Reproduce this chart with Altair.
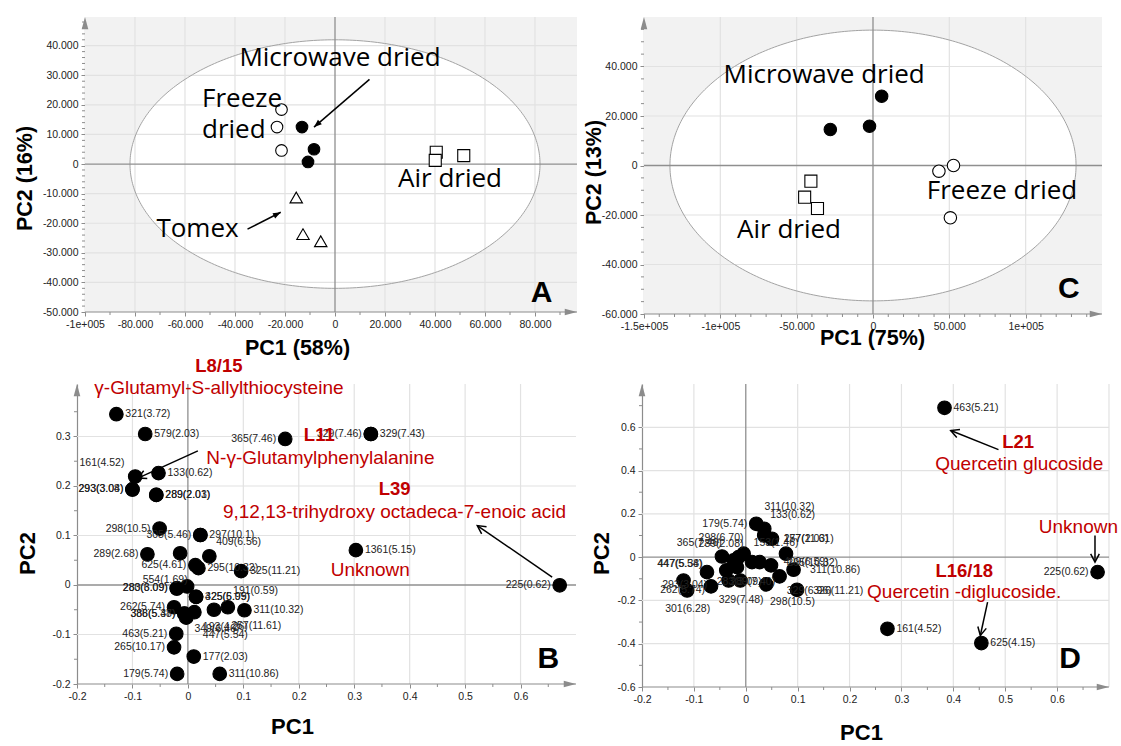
import altair as alt
import numpy as np
import pandas as pd

# ====================== DATA ======================
# ---- Panel A (scores) ----
A_freeze_x = [-21400, -23200, -21400]
A_freeze_y = [18400, 12500, 4600]
A_micro_x = [-13200, -8400, -10800]
A_micro_y = [12500, 5000, 700]
A_air_x = [40500, 40100, 51500]
A_air_y = [4000, 1250, 2850]
A_tomex_x = [-15500, -12800, -5700]
A_tomex_y = [-11300, -23700, -26100]
A_ell = [82000, 42000]
A_lbl = ["Microwave dried", "Freeze", "dried", "Air dried", "Tomex"]
A_lbl_x = [2000, -53200, -53200, 46000, -55000]
A_lbl_y = [35700, 22000, 11400, -4900, -22100]
A_lbl_align = ["center", "left", "left", "center", "center"]
A_arr_x1 = [13800, -35000]
A_arr_y1 = [28600, -22000]
A_arr_x2 = [-8400, -21700]
A_arr_y2 = [12500, -16300]
A_xticks = [-100000, -80000, -60000, -40000, -20000, 0, 20000, 40000, 60000, 80000]
A_yticks = [-50000, -40000, -30000, -20000, -10000, 0, 10000, 20000, 30000, 40000]

# ---- Panel C (scores) ----
C_micro_x = [-27950, -2270, 5680]
C_micro_y = [14545, 15890, 28010]
C_freeze_x = [43180, 52730, 50680]
C_freeze_y = [-2290, 0, -21140]
C_air_x = [-40680, -44770, -36360]
C_air_y = [-6330, -12790, -17370]
C_ell = [133000, 54700]
C_lbl = ["Microwave dried", "Freeze dried", "Air dried"]
C_lbl_x = [-32000, 84500, -55000]
C_lbl_y = [36500, -10200, -25900]
C_xticks = [-150000, -100000, -50000, 0, 50000, 100000]
C_yticks = [-60000, -40000, -20000, 0, 20000, 40000]

# ---- Panel B (loadings) ----
B_x = [-0.129, -0.077, 0.1755, 0.330, 0.330, -0.095, -0.053, -0.100, -0.100, -0.057,
       -0.057, -0.051, 0.0225, 0.0225, 0.0387, -0.073, -0.014, 0.0135, 0.019, 0.096,
       -0.020, -0.020, -0.0014, 0.0148, 0.0148, 0.072, 0.102, 0.047, 0.0117, -0.0063,
       -0.0063, -0.003, -0.025, -0.021, -0.025, 0.0106, -0.0194, 0.0574, 0.303, 0.6706]
B_y = [0.345, 0.305, 0.295, 0.305, 0.305, 0.219, 0.226, 0.193, 0.193, 0.182,
       0.182, 0.114, 0.101, 0.101, 0.058, 0.062, 0.064, 0.040, 0.034, 0.028,
       -0.007, -0.007, -0.003, -0.024, -0.024, -0.045, -0.051, -0.050, -0.055, -0.058,
       -0.058, -0.066, -0.045, -0.0985, -0.126, -0.1446, -0.1796, -0.1796, 0.0704, -0.0006]
B_lab = ["321(3.72)", "579(2.03)", "365(7.46)", "329(7.46)", "329(7.43)", "", "133(0.62)", "293(3.08)", "293(3.04)", "289(2.03)",
         "289(2.01)", "298(10.5)", "305(5.46)", "297(10.1)", "", "289(2.68)", "", "625(4.61)", "295(10.32)", "325(11.21)",
         "283(3.09)", "280(6.09)", "", "325(6.09)", "425(5.95)", "", "311(10.32)", "", "", "386(5.47)",
         "388(5.38)", "", "262(5.74)", "463(5.21)", "265(10.17)", "177(2.03)", "179(5.74)", "311(10.86)", "1361(5.15)", "225(0.62)"]
B_side = ["r", "r", "l", "l", "r", "", "r", "l", "l", "r",
          "r", "l", "l", "r", "", "l", "", "l", "r", "r",
          "l", "l", "", "r", "r", "", "r", "", "", "l",
          "l", "", "l", "l", "l", "r", "l", "r", "r", "l"]
B_free = ["161(4.52)", "409(6.56)", "554(1.69)", "191(0.59)", "257(11.61)", "193(4.26)", "349(6.46)", "447(5.54)"]
B_free_x = [-0.155, 0.051, -0.041, 0.122, 0.078, 0.027, 0.0117, 0.027]
B_free_y = [0.247, 0.086, 0.011, -0.012, -0.083, -0.085, -0.088, -0.102]
B_free_align = ["center", "left", "center", "center", "left", "left", "left", "left"]
B_red = ["γ-Glutamyl-S-allylthiocysteine", "N-γ-Glutamylphenylalanine",
         "9,12,13-trihydroxy octadeca-7-enoic acid", "Unknown"]
B_red_x = [0.056, 0.239, 0.3727, 0.329]
B_red_y = [0.398, 0.256, 0.148, 0.031]
B_redb = ["L8/15", "L11", "L39"]
B_redb_x = [0.056, 0.237, 0.373]
B_redb_y = [0.442, 0.303, 0.193]
B_arr_x1 = [0.018, 0.657]
B_arr_y1 = [0.271, 0.016]
B_arr_x2 = [-0.090, 0.522]
B_arr_y2 = [0.216, 0.120]
B_xticks = [-0.2, -0.1, 0, 0.1, 0.2, 0.3, 0.4, 0.5, 0.6]
B_yticks = [-0.2, -0.1, 0, 0.1, 0.2, 0.3]

# ---- Panel D (loadings) ----
D_x = [0.383, 0.678, 0.273, 0.454, 0.0202, 0.0356, 0.0356, 0.0505, 0.0775, -0.0042,
       -0.0139, -0.0459, -0.0235, 0.012, 0.0266, -0.0376, -0.017, -0.0748, 0.0486, 0.0651,
       0.0921, -0.067, -0.0331, -0.0106, 0.0395, -0.120, -0.113, 0.0987]
D_y = [0.690, -0.069, -0.331, -0.397, 0.154, 0.131, 0.100, 0.085, 0.016, 0.016,
       0.000, 0.003, -0.015, -0.023, -0.023, -0.061, -0.046, -0.069, -0.038, -0.089,
       -0.058, -0.135, -0.108, -0.108, -0.126, -0.108, -0.154, -0.151]
D_lab = ["463(5.21)", "225(0.62)", "161(4.52)", "625(4.15)", "179(5.74)"] + [""] * 23
D_side = ["r", "l", "r", "r", "l"] + [""] * 23
D_free = ["311(10.32)", "133(0.62)", "365(7.46)", "298(6.70)", "289(2.08)", "153(1.46)", "177(2.03)",
          "257(11.61)", "447(5.54)", "447(5.38)", "409(6.59)", "295(10.32)", "311(10.86)", "326(11.21)",
          "329(6.96)", "293(3.04)", "262(5.74)", "301(6.28)", "329(7.48)", "298(10.5)", "283(3.09)", "289(7.40)"]
D_free_x = [0.036, 0.047, -0.133, -0.091, -0.091, 0.015, 0.073,
            0.073, -0.084, -0.083, 0.073, 0.080, 0.124, 0.130,
            0.079, -0.161, -0.165, -0.112, -0.009, 0.090, -0.056, -0.030]
D_free_y = [0.230, 0.197, 0.066, 0.088, 0.062, 0.065, 0.085,
            0.085, -0.031, -0.033, -0.023, -0.026, -0.061, -0.158,
            -0.158, -0.131, -0.150, -0.238, -0.200, -0.205, -0.115, -0.115]
D_free_align = ["left", "left", "left", "left", "left", "left", "left",
                "left", "right", "right", "left", "left", "left", "left",
                "left", "left", "left", "center", "center", "center", "left", "left"]
D_red = ["Quercetin glucoside", "Unknown", "Quercetin -diglucoside."]
D_red_x = [0.527, 0.641, 0.421]
D_red_y = [0.431, 0.139, -0.162]
D_redb = ["L21", "L16/18"]
D_redb_x = [0.525, 0.421]
D_redb_y = [0.531, -0.065]
D_arr_x1 = [0.487, 0.673, 0.466]
D_arr_y1 = [0.497, 0.100, -0.208]
D_arr_x2 = [0.395, 0.673, 0.452]
D_arr_y2 = [0.585, -0.023, -0.362]
D_xticks = [-0.2, -0.1, 0, 0.1, 0.2, 0.3, 0.4, 0.5, 0.6]
D_yticks = [-0.6, -0.4, -0.2, 0, 0.2, 0.4, 0.6]

# ====================== STYLE ======================
AXC = "#8c8c8c"
GRIDC = "#e2e2e2"
ZEROC = "#8f8f8f"
RED = "#c00000"
TF = "Liberation Sans"
BIGF = "Open Sans"
UP_ARROW = "M0,0L-0.27,1L0.27,1Z"
RIGHT_ARROW = "M0,0L-1,-0.27L-1,0.27Z"
CHEVRON = "M-0.5,0.95L0,0L0.5,0.95"
TRIHEAD = "M0,0L-0.42,1.1L0.42,1.1Z"


def thousands_expr(special):
    s = ""
    for v, txt in special:
        s += f"datum.value == {v} ? '{txt}' : "
    return s + "(datum.value < 0 ? '-' : '') + replace(format(abs(datum.value), ','), ',', '.')"


DEC_EXPR = "(datum.value < 0 ? '-' : '') + format(abs(datum.value), '.1~f')"


def panel(p):
    xd, yd, W, H = p["xd"], p["yd"], p["W"], p["H"]
    x0 = p.get("x0", xd[0])          # data value where the y axis sits

    def px(v):
        return (v - xd[0]) / (xd[1] - xd[0]) * W

    def py(v):
        return (yd[1] - v) / (yd[1] - yd[0]) * H

    off = px(x0)
    xs = alt.Scale(domain=xd, nice=False, zero=False)
    ys = alt.Scale(domain=yd, nice=False, zero=False)
    common = dict(grid=False, tickColor=AXC, tickSize=4, tickWidth=1, labelPadding=3, labelFont=TF,
                  labelFontSize=10.5, labelColor="#222", labelFlush=False, labelOverlap=False,
                  titleFont="Liberation Sans", titleFontSize=p["tfs"], titleFontWeight="bold",
                  titleColor="black", titleBaseline="middle", titleAlign="center")
    xa = alt.Axis(values=p["xt"], labelExpr=p["xfmt"], title=p["xtitle"], titleX=p["xtx"] + off,
                  titleY=p["xty"], titleAngle=0, domain=False, **common)
    ya = alt.Axis(values=p["yt"], labelExpr=p["yfmt"], title=p["ytitle"], titleX=p["ytx"],
                  titleY=p["yty"], titleAngle=270, domain=True, domainColor=AXC, domainWidth=1.2,
                  offset=-off, **common)

    def X(f):
        return alt.X(f, type="quantitative", scale=xs, axis=xa)

    def Y(f):
        return alt.Y(f, type="quantitative", scale=ys, axis=ya)

    L = []
    if p.get("bg"):
        df = pd.DataFrame({"x": [x0], "x2": [xd[1]], "y": [yd[0]], "y2": [yd[1]]})
        L.append(alt.Chart(df).mark_rect(color=p["bg"]).encode(
            x=X("x"), x2=alt.X2("x2"), y=Y("y"), y2=alt.Y2("y2")))
    if p.get("ell"):
        rx, ry = p["ell"]
        t = np.linspace(np.pi, 0, 241)
        df = pd.DataFrame({"x": rx * np.cos(t), "y": ry * np.sin(t), "y2": -ry * np.sin(t)})
        L.append(alt.Chart(df).mark_area(color="white", orient="vertical").encode(
            x=X("x"), y=Y("y"), y2=alt.Y2("y2")))
    # grid
    gx = [v for v in p["gx"] if v not in (0, x0)]
    gy = [v for v in p["gy"] if v not in (0, yd[0])]
    dfgx = pd.DataFrame({"x": gx, "y": [yd[0]] * len(gx), "y2": [yd[1]] * len(gx)})
    L.append(alt.Chart(dfgx).mark_rule(color=GRIDC, strokeWidth=1.2).encode(
        x=X("x"), y=Y("y"), y2=alt.Y2("y2")))
    dfgy = pd.DataFrame({"y": gy, "x": [x0] * len(gy), "x2": [xd[1]] * len(gy)})
    L.append(alt.Chart(dfgy).mark_rule(color=GRIDC, strokeWidth=1.2).encode(
        y=Y("y"), x=X("x"), x2=alt.X2("x2")))
    if p.get("ell"):
        rx, ry = p["ell"]
        t = np.linspace(0, 2 * np.pi, 361)
        df = pd.DataFrame({"x": rx * np.cos(t), "y": ry * np.sin(t), "o": np.arange(361)})
        L.append(alt.Chart(df).mark_line(color="#a3a3a3", strokeWidth=1).encode(
            x=X("x"), y=Y("y"), order="o:Q"))
    # zero lines
    dz = pd.DataFrame({"x": [0], "y": [yd[0]], "y2": [yd[1]]})
    L.append(alt.Chart(dz).mark_rule(color=ZEROC, strokeWidth=1.3).encode(
        x=X("x"), y=Y("y"), y2=alt.Y2("y2")))
    dz2 = pd.DataFrame({"y": [0], "x": [x0], "x2": [xd[1]]})
    L.append(alt.Chart(dz2).mark_rule(color=ZEROC, strokeWidth=1.3).encode(
        y=Y("y"), x=X("x"), x2=alt.X2("x2")))
    # x axis line (bottom)
    dxl = pd.DataFrame({"y": [yd[0]], "x": [x0], "x2": [xd[1]]})
    L.append(alt.Chart(dxl).mark_rule(color=AXC, strokeWidth=1.2).encode(
        y=Y("y"), x=X("x"), x2=alt.X2("x2")))
    # minor ticks
    dmx = pd.DataFrame({"x": p["mx"]})
    L.append(alt.Chart(dmx).mark_rule(color=AXC).encode(
        x=X("x"), y=alt.value(H), y2=alt.value(H + 3)))
    dmy = pd.DataFrame({"y": p["my"]})
    L.append(alt.Chart(dmy).mark_rule(color=AXC).encode(
        y=Y("y"), x=alt.value(off - 3), x2=alt.value(off)))
    # axis arrow heads
    L.append(alt.Chart(pd.DataFrame({"x": [x0], "y": [yd[1]]})).mark_point(
        shape=UP_ARROW, filled=True, color=AXC, size=600, opacity=1).encode(x=X("x"), y=Y("y")))
    L.append(alt.Chart(pd.DataFrame({"x": [xd[1]], "y": [yd[0]]})).mark_point(
        shape=RIGHT_ARROW, filled=True, color=AXC, size=600, opacity=1).encode(x=X("x"), y=Y("y")))
    # points
    for (xx, yy, shape, fill, size) in p["pts"]:
        df = pd.DataFrame({"x": xx, "y": yy})
        L.append(alt.Chart(df).mark_point(shape=shape, filled=True, fill=fill, stroke="black",
                                          strokeWidth=1.1, size=size, opacity=1).encode(
            x=X("x"), y=Y("y")))
    # point labels
    if p.get("plab"):
        xx, yy, lab, side = p["plab"]
        df = pd.DataFrame({"x": xx, "y": yy, "t": lab, "s": side})
        dr = df[df.s == "r"]
        dl = df[df.s == "l"]
        L.append(alt.Chart(dr).mark_text(align="left", baseline="middle", dx=9, font=TF,
                                         fontSize=10.5, color="#222").encode(
            x=X("x"), y=Y("y"), text="t:N"))
        L.append(alt.Chart(dl).mark_text(align="right", baseline="middle", dx=-9, font=TF,
                                         fontSize=10.5, color="#222").encode(
            x=X("x"), y=Y("y"), text="t:N"))
    # free texts
    for (tt, xx, yy, aligns, style) in p["texts"]:
        df = pd.DataFrame({"x": xx, "y": yy, "t": tt, "a": aligns})
        for al in ["left", "center", "right"]:
            sub = df[df.a == al]
            if len(sub) == 0:
                continue
            L.append(alt.Chart(sub).mark_text(align=al, baseline="middle", **style).encode(
                x=X("x"), y=Y("y"), text="t:N"))
    # arrows
    if p.get("arrows"):
        x1, y1, x2, y2, head, hfilled, hsize = p["arrows"]
        ang = [(np.degrees(np.arctan2(px(b) - px(a), -(py(d) - py(c)))) + 360) % 360
               for a, c, b, d in zip(x1, y1, x2, y2)]
        df = pd.DataFrame({"x": x1, "y": y1, "x2": x2, "y2": y2, "ang": ang})
        L.append(alt.Chart(df).mark_rule(color="black", strokeWidth=1.5).encode(
            x=X("x"), y=Y("y"), x2=alt.X2("x2"), y2=alt.Y2("y2")))
        L.append(alt.Chart(df).mark_point(shape=head, filled=hfilled, color="black",
                                          strokeWidth=1.5, size=hsize, opacity=1).encode(
            x=X("x2"), y=Y("y2"), angle=alt.Angle("ang:Q", scale=None)))
    if p.get("anchor"):
        ax, ay = p["anchor"]
        L.append(alt.Chart(pd.DataFrame({"a": [0]})).mark_rule(opacity=0).encode(
            x=alt.value(ax), x2=alt.value(ax), y=alt.value(ay), y2=alt.value(ay + 1)))
    return alt.layer(*L).properties(width=W, height=H)


BIG = dict(font=BIGF, fontSize=26, color="black")
LETTER = dict(font="Liberation Sans", fontSize=30, fontWeight="bold", color="black")
SMALL = dict(font=TF, fontSize=10.5, color="#222")
REDN = dict(font="Liberation Sans", fontSize=19, color=RED)
REDB = dict(font="Liberation Sans", fontSize=18.5, fontWeight="bold", color=RED)

# Layout: grid of 2 columns. Column 1 starts at x=77, column 2 at x=642,
# row 1 at y=17, row 2 at y=384.
pA = dict(
    xd=[-103200, 96800], x0=-100000, yd=[-50000, 49700], W=500, H=295,
    xt=A_xticks, yt=A_yticks, gx=A_xticks, gy=A_yticks,
    mx=list(range(-90000, 96000, 20000)), my=[v for v in range(-48000, 49000, 2000) if v % 10000],
    xfmt=thousands_expr([(-100000, "-1e+005")]), yfmt=thousands_expr([]),
    xtitle="PC1 (58%)", ytitle="PC2 (16%)", xtx=212, xty=36, ytx=-60, yty=161, tfs=21.5,
    bg="#f2f2f2", ell=A_ell,
    pts=[(A_freeze_x, A_freeze_y, "circle", "white", 135),
         (A_micro_x, A_micro_y, "circle", "black", 135),
         (A_air_x, A_air_y, "square", "white", 145),
         (A_tomex_x, A_tomex_y, "triangle-up", "white", 155)],
    texts=[(A_lbl, A_lbl_x, A_lbl_y, A_lbl_align, BIG),
           (["A"], [82600], [-43500], ["center"], LETTER)],
    arrows=(A_arr_x1, A_arr_y1, A_arr_x2, A_arr_y2, TRIHEAD, True, 200),
    anchor=(-77, -17),
)

pC = dict(
    xd=[-151300, 150000], x0=-150000, yd=[-60000, 60000], W=460, H=297,
    xt=C_xticks, yt=C_yticks, gx=C_xticks, gy=C_yticks,
    mx=[v for v in range(-140000, 150000, 10000) if v % 50000], my=[v for v in range(-55000, 60000, 5000) if v % 20000],
    xfmt=thousands_expr([(-150000, "-1.5e+005"), (-100000, "-1e+005"), (100000, "1e+005")]),
    yfmt=thousands_expr([]),
    xtitle="PC1 (75%)", ytitle="PC2 (13%)", xtx=228, xty=24, ytx=-49, yty=155, tfs=21.5,
    bg="#f2f2f2", ell=C_ell,
    pts=[(C_micro_x, C_micro_y, "circle", "black", 155),
         (C_freeze_x, C_freeze_y, "circle", "white", 155),
         (C_air_x, C_air_y, "square", "white", 145)],
    texts=[(C_lbl, C_lbl_x, C_lbl_y, ["center"] * 3, BIG),
           (["C"], [128200], [-49700], ["center"], LETTER)],
)

pB = dict(
    xd=[-0.2, 0.7], yd=[-0.2, 0.406], W=499, H=300,
    xt=B_xticks, yt=B_yticks, gx=B_xticks, gy=B_yticks,
    mx=[-0.15, -0.05, 0.05, 0.15, 0.25, 0.35, 0.45, 0.55, 0.65], my=[-0.15, -0.05, 0.05, 0.15, 0.25, 0.35],
    xfmt=DEC_EXPR, yfmt=DEC_EXPR,
    xtitle="PC1", ytitle="PC2", xtx=215, xty=42, ytx=-50, yty=169, tfs=22,
    pts=[(B_x, B_y, "circle", "black", 185)],
    plab=(B_x, B_y, B_lab, B_side),
    texts=[(B_free, B_free_x, B_free_y, B_free_align, SMALL),
           (B_red, B_red_x, B_red_y, ["center"] * 4, REDN),
           (B_redb, B_redb_x, B_redb_y, ["center"] * 3, REDB),
           (["B"], [0.65], [-0.149], ["center"], LETTER)],
    arrows=(B_arr_x1, B_arr_y1, B_arr_x2, B_arr_y2, CHEVRON, False, 300),
)

pD = dict(
    xd=[-0.2, 0.7], yd=[-0.6, 0.8], W=467, H=303,
    xt=D_xticks, yt=D_yticks, gx=D_xticks + [0.7], gy=D_yticks,
    mx=[-0.15, -0.05, 0.05, 0.15, 0.25, 0.35, 0.45, 0.55, 0.65], my=[-0.5, -0.3, -0.1, 0.1, 0.3, 0.5, 0.7],
    xfmt=DEC_EXPR, yfmt=DEC_EXPR,
    xtitle="PC1", ytitle="PC2", xtx=219, xty=45, ytx=-41, yty=169, tfs=22,
    pts=[(D_x, D_y, "circle", "black", 185)],
    plab=(D_x, D_y, D_lab, D_side),
    texts=[(D_free, D_free_x, D_free_y, D_free_align, SMALL),
           (D_red, D_red_x, D_red_y, ["center"] * 3, REDN),
           (D_redb, D_redb_x, D_redb_y, ["center"] * 2, REDB),
           (["D"], [0.625], [-0.47], ["center"], LETTER)],
    arrows=(D_arr_x1, D_arr_y1, D_arr_x2, D_arr_y2, CHEVRON, False, 300),
)

chart = alt.concat(
    panel(pA), panel(pC), panel(pB), panel(pD),
    columns=2, spacing={"row": 70, "column": 65}, bounds="flush", padding=0,
).configure_view(stroke=None)

chart.save("out.html", embed_options={"renderer": "svg", "actions": False})
